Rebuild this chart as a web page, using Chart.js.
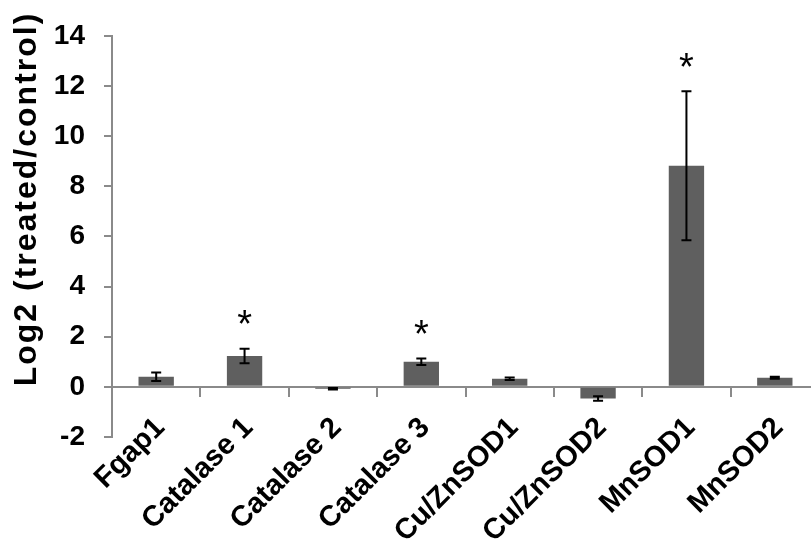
<!DOCTYPE html>
<html lang="en">
<head>
  <meta charset="UTF-8" />
  <title>Log2 (treated/control)</title>
  <script src="https://cdn.jsdelivr.net/npm/chart.js"></script>
  <style>
    body {
      margin: 0;
      background: #ffffff;
    }

    #wrap {
      width: 811px;
      height: 545px;
      overflow: hidden;
    }
  </style>
</head>
<body>

  <div id="wrap">
    <canvas id="geneChart" width="820" height="545"></canvas>
  </div>

  <script>
    const genes = [
      'Fgap1', 'Catalase 1', 'Catalase 2', 'Catalase 3',
      'Cu/ZnSOD1', 'Cu/ZnSOD2', 'MnSOD1', 'MnSOD2'
    ];

    const log2Ratio = [0.40, 1.23, -0.08, 1.00, 0.32, -0.46, 8.82, 0.36];

    const errorBars = [0.17, 0.29, 0.03, 0.13, 0.05, 0.09, 2.97, 0.04];

    const significant = [false, true, false, true, false, false, true, false];

    const yTitle = 'Log2 (treated/control)';

    const FONT = "'Liberation Sans', Arial, sans-serif";

    // error bars + significance stars on top of the bars
    const errorBarPlugin = {
      id: 'errorBars',
      afterDatasetsDraw(chart) {
        const ctx = chart.ctx;
        const y = chart.scales.y;
        const meta = chart.getDatasetMeta(0);
        ctx.save();
        ctx.strokeStyle = '#000';
        ctx.lineWidth = 2;
        meta.data.forEach((bar, i) => {
          const top = y.getPixelForValue(log2Ratio[i] + errorBars[i]);
          const bottom = y.getPixelForValue(log2Ratio[i] - errorBars[i]);
          ctx.beginPath();
          ctx.moveTo(bar.x, top);
          ctx.lineTo(bar.x, bottom);
          ctx.moveTo(bar.x - 5, top);
          ctx.lineTo(bar.x + 5, top);
          ctx.moveTo(bar.x - 5, bottom);
          ctx.lineTo(bar.x + 5, bottom);
          ctx.stroke();

          if (significant[i]) {
            ctx.fillStyle = '#000';
            ctx.font = '38px ' + FONT;
            ctx.textAlign = 'center';
            ctx.textBaseline = 'middle';
            ctx.fillText('*', bar.x, top - 22);
          }
        });
        ctx.restore();
      }
    };

    // y axis title, spread out along the axis like the original
    const yTitlePlugin = {
      id: 'yTitle',
      afterDraw(chart) {
        const ctx = chart.ctx;
        ctx.save();
        ctx.translate(27, 199);
        ctx.rotate(-Math.PI / 2);
        ctx.font = 'bold 32px ' + FONT;
        ctx.letterSpacing = '2px';
        ctx.fillStyle = '#000';
        ctx.textAlign = 'center';
        ctx.textBaseline = 'middle';
        ctx.fillText(yTitle, 0, 0);
        ctx.restore();
      }
    };

    const ctx = document.getElementById('geneChart').getContext('2d');
    const chart = new Chart(ctx, {
      type: 'bar',
      data: {
        labels: genes,
        datasets: [
          {
            data: log2Ratio,
            backgroundColor: '#5f5f5f',
            borderWidth: 0,
            categoryPercentage: 1,
            barPercentage: 0.4
          }
        ]
      },
      options: {
        responsive: false,
        animation: false,
        layout: {
          padding: { left: 0, top: 21, right: 1, bottom: 108 }
        },
        plugins: {
          legend: { display: false },
          tooltip: { enabled: false }
        },
        scales: {
          x: {
            position: { y: 0 },
            grid: {
              offset: true,
              drawOnChartArea: false,
              drawTicks: true,
              tickLength: 9,
              tickColor: '#8a8a8a',
              lineWidth: 2
            },
            border: { display: true, color: '#8a8a8a', width: 2 },
            ticks: {
              minRotation: 45,
              maxRotation: 45,
              padding: 15,
              labelOffset: 4,
              color: '#000',
              font: { family: FONT, size: 29, weight: 'bold' }
            }
          },
          y: {
            min: -2,
            max: 14,
            afterFit(scale) {
              scale.width = 112;
            },
            grid: {
              drawOnChartArea: false,
              drawTicks: true,
              tickLength: 8,
              tickColor: '#8a8a8a',
              lineWidth: 2
            },
            border: { display: true, color: '#8a8a8a', width: 2 },
            ticks: {
              stepSize: 2,
              padding: 19,
              color: '#000',
              font: { family: FONT, size: 28, weight: 'bold' }
            }
          }
        }
      },
      plugins: [errorBarPlugin, yTitlePlugin]
    });
  </script>

</body>
</html>
